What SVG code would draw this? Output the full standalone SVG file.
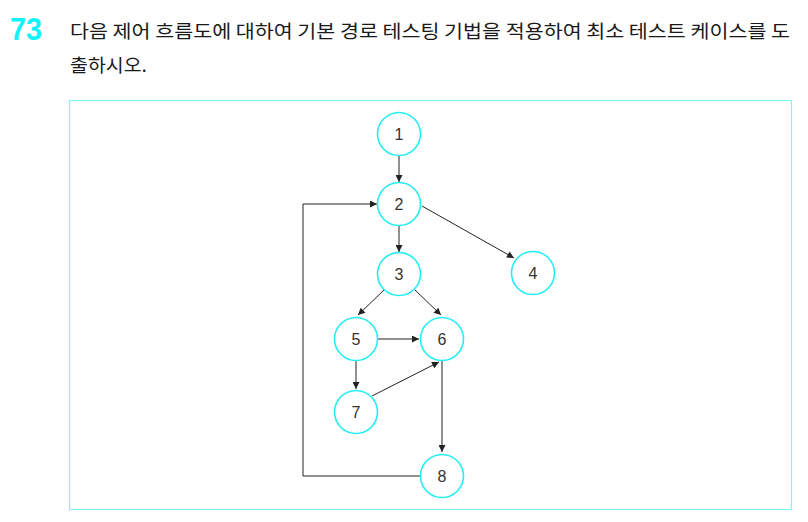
<svg xmlns="http://www.w3.org/2000/svg" width="808" height="522" viewBox="0 0 808 522">
<defs>
<style>
.node circle{fill:#fff;stroke:#22eef5;stroke-width:1.6}
.node text{font-family:"Liberation Sans",Arial,sans-serif;font-size:16px;fill:#333;text-anchor:middle;dominant-baseline:central}
.edge{fill:none;stroke:#222;stroke-width:1;marker-end:url(#ah)}
.q{font-family:"Noto Sans CJK KR","Noto Sans",sans-serif;font-size:18.5px;fill:#1a1a1a}
</style>
<marker id="ah" viewBox="0 0 10 10" refX="10" refY="5" markerWidth="9" markerHeight="7" markerUnits="userSpaceOnUse" orient="auto">
<path d="M0,0 L10,5 L0,10 z" fill="#222"/>
</marker>
</defs>
<rect width="808" height="522" fill="#fff"/>
<text x="10" y="40" font-family="Liberation Sans,Arial,sans-serif" font-weight="bold" font-size="32" fill="#0ff4f8" textLength="32" lengthAdjust="spacingAndGlyphs">73</text>
<text class="q" x="70" y="38" textLength="720" lengthAdjust="spacingAndGlyphs">다음 제어 흐름도에 대하여 기본 경로 테스팅 기법을 적용하여 최소 테스트 케이스를 도</text>
<text class="q" x="70" y="72" textLength="77" lengthAdjust="spacingAndGlyphs">출하시오.</text>
<rect x="69.5" y="100.5" width="722" height="409" fill="none" stroke="#7ff5f8" stroke-width="1.2"/>
<g id="connectors">
<line class="edge" x1="399" y1="156" x2="399" y2="182"/>
<line class="edge" x1="399" y1="226" x2="399" y2="252"/>
<line class="edge" x1="422" y1="206" x2="514" y2="258"/>
<line class="edge" x1="384" y1="290" x2="358" y2="315"/>
<line class="edge" x1="415" y1="290" x2="441" y2="315"/>
<line class="edge" x1="378" y1="339" x2="419" y2="339"/>
<line class="edge" x1="356" y1="361" x2="356" y2="389"/>
<line class="edge" x1="372" y1="396" x2="439" y2="362"/>
<line class="edge" x1="442" y1="361" x2="442" y2="452"/>
<polyline class="edge" points="420,476 303,476 303,204 377,204"/>
</g>
<g id="n1" class="node"><circle cx="399" cy="134" r="21.5"/><text x="399" y="134">1</text></g>
<g id="n2" class="node"><circle cx="399" cy="204" r="21.5"/><text x="399" y="204">2</text></g>
<g id="n3" class="node"><circle cx="399" cy="274" r="21.5"/><text x="399" y="274">3</text></g>
<g id="n4" class="node"><circle cx="533" cy="273" r="21.5"/><text x="533" y="273">4</text></g>
<g id="n5" class="node"><circle cx="356" cy="339" r="21.5"/><text x="356" y="339">5</text></g>
<g id="n6" class="node"><circle cx="442" cy="339" r="21.5"/><text x="442" y="339">6</text></g>
<g id="n7" class="node"><circle cx="356" cy="412" r="21.5"/><text x="356" y="412">7</text></g>
<g id="n8" class="node"><circle cx="442" cy="476" r="21.5"/><text x="442" y="476">8</text></g>
</svg>
